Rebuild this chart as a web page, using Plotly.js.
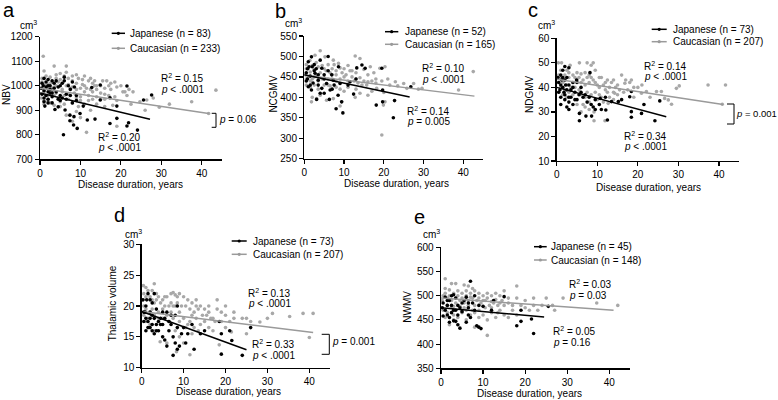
<!DOCTYPE html>
<html>
<head>
<meta charset="utf-8">
<script src="https://cdn.plot.ly/plotly-3.0.1.min.js"></script>
<style>html,body{margin:0;padding:0;background:#fff}#chart{width:778px;height:400px}</style>
</head>
<body>
<div id="chart"></div>
<script>
// values: [disease duration (years), volume (cm3)]
var nbvJapanese = [[0.5,1010],[1,1030],[1.5,1015],[2,1025],[2.5,1000],[3,1020],[3.5,1010],[1,980],[1.5,960],[2,945],[2.5,970],[3,955],[0.5,965],[1,950],[4,975],[4.5,995],[5,960],[5.5,1010],[6,1020],[6,1035],[7,1000],[7.5,985],[8,1015],[8.5,995],[9,960],[3.7,903],[4.5,914],[6.2,901],[7.4,880],[8.4,874],[7.4,857],[8.3,840],[9.2,826],[5.8,800],[9.9,887],[10.7,917],[11.7,860],[12.8,993],[13.6,864],[14.9,1003],[14.9,942],[17.3,951],[17.3,846],[19,917],[19,867],[21.5,999],[21.5,836],[21.9,849],[24.1,819],[25.6,942],[27.6,962],[1.2,917],[2,1000],[5,940],[6.5,965],[3,930],
  [0.3,990],[1.5,995],[2.5,985],[3.5,990],[4,1020],[5,1000],[0.8,1000],[2,975],[3,970],[4.5,945],[5.5,950],[6.5,945],[7.5,960],[8,930],[9,940],[2,930],[1,935]];
var nbvCaucasian = [[0.8,1120],[1,1060],[3.5,1080],[6.5,1080],[6.5,1055],[0.5,1030],[1.5,1040],[2.5,1035],[3,1015],[4,1030],[5,1025],[5.5,1010],[7,1030],[8,1020],[9,1010],[9.5,1030],[10.5,1025],[11,1000],[12,1020],[13,1010],[14,1000],[15.5,1020],[16.5,1020],[17.5,1010],[18.5,1015],[20,1000],[22,985],[0.5,990],[1,975],[1.5,960],[2,945],[2.5,930],[3,990],[4,970],[4.5,950],[5,935],[6,960],[7,945],[7.5,990],[8.5,970],[9,950],[10,940],[11,975],[12,960],[13,945],[14,985],[15,970],[16,945],[17,960],[18.5,955],[19,940],[19,835],[11.5,810],[8,855],[6.5,880],[9,895],[10,870],[12.5,900],[14,925],[16,915],[17.5,985],[20.5,975],[21.5,960],[22.5,925],[24.7,935],[26.4,942],[26,900],[23,975],[28,950],[29.5,912],[32,925],[37.5,935],[41.7,887],[43.5,982],[1,925],[2,935],[3.5,920],[5,915],[0.3,950],[7,1005],[4,1000],[2,1005],[10,990],[13,975],[15,945],[9.5,915],[18,920],[21,975],
  [1.5,1000],[2.5,1010],[3.5,995],[4.5,1015],[5.5,985],[6.5,1000],[8,995],[9,985],[10.5,1005],[11.5,990],[12.5,985],[13.5,1000],[0.5,1015],[1,1005],[2,990],[3,975],[4,1045],[5,1050],[6,1040],[8,1040],[9,1045],[11,1040],[12.5,1030],[13.5,1020],[15,1000],[16,990],[17,1000],[19,995],[6,925],[8,930],[10,955],[12,940],[14,955],[11,925],[7,965],[5.5,975],[3.5,960],[2,960],[1,940],[16,965]];
var nbvFitJapanese = [[0,970],[27.2,863]];
var nbvFitCaucasian = [[0,990],[41.7,887]];

var ncgmvJapanese = [[1,487],[1.8,499],[2.5,480],[4,491],[6,500],[2.7,459],[4.4,471],[3.5,442],[1,426],[1.8,418],[3.1,395],[4.4,422],[5.6,434],[6.5,418],[6.3,395],[8,372],[9.4,389],[9.7,362],[9,434],[8.6,475],[11.5,438],[12.4,408],[13.2,472],[14.5,479],[15.3,471],[18.1,381],[19.5,471],[19.7,418],[19.7,389],[22.4,350],[22.7,392],[26.8,426],[6.9,455],[7.3,442],[0.5,460],[1.5,452],[2.2,435],[3,470],[5,455],[6,465],[2,475],[4,410],[7,420],[0.8,470],
  [0.8,445],[1.2,475],[2.5,465],[3.5,455],[5,445],[0.5,440],[1.5,430],[3.5,430],[5,410],[7.5,430],[8.5,405],[11,430],[13,445]];
var ncgmvCaucasian = [[4,514],[2.7,503],[5.2,499],[1.4,490],[12.8,501],[14,495],[7.3,491],[8.6,483],[0.5,480],[1,470],[2,478],[3,485],[4.5,478],[6,480],[7,470],[8,465],[9,472],[10,470],[11,478],[12,465],[13,460],[15,468],[16.6,475],[19,471],[20.3,475],[17.5,460],[0.3,455],[1,450],[2,445],[3,455],[4,460],[5,448],[6,445],[7,455],[8,440],[9,445],[10,450],[11,440],[12,450],[13,445],[14,448],[15,440],[16,438],[18,445],[0.5,430],[1.5,425],[2.5,430],[3.5,420],[5,430],[6.5,428],[8,425],[10,415],[11,425],[13,420],[14.5,430],[15.7,430],[17,415],[18.2,422],[20,412],[21,445],[22.9,438],[25,434],[25.8,422],[27.5,434],[28.7,420],[29.6,422],[38.8,418],[42.5,463],[19.5,308],[19.9,381],[20.3,389],[9,379],[9.4,389],[1.8,389],[3.1,397],[5.6,393],[7.3,397],[12.8,400],[2,400],[4,405],
  [0.5,470],[1.5,462],[2.5,468],[3.5,475],[4.5,445],[5.5,465],[6.5,460],[7.5,480],[9.5,460],[10.5,455],[11.5,465],[12.5,440],[13.5,435],[0.5,445],[1.5,440],[2.5,450],[3.5,440],[5,470],[6,430],[7,445],[8,455],[9,420],[16,455],[17,440],[18,435],[19.5,440],[21.5,430],[23.5,428],[14,410],[16,405]];
var ncgmvFitJapanese = [[0,455],[26.5,401]];
var ncgmvFitCaucasian = [[0,454],[42.8,403]];

var ndgmvJapanese = [[0.5,42],[1,45],[1.5,47],[2,48.5],[2.5,44],[3,48],[1,41],[1.5,40],[2,43],[2.5,39],[3,41],[0.5,38],[1,36],[2,35],[3,34],[3.5,36],[2.5,32],[3,31],[4,33],[4.5,38],[4.9,43],[5,35],[5.6,29.4],[5.6,26.4],[6,38],[7,37],[7.2,28.3],[8,36],[8.2,46],[8.6,28.3],[9,32],[9.5,35],[10.7,35.5],[11,31],[12.1,30.8],[12.5,26.7],[12,36],[13.5,34.2],[15.2,34.2],[16,35],[18,36.2],[18.4,38.3],[18.4,30.1],[18.4,27.8],[20.9,29.4],[21.5,33],[24.2,26.4],[25.4,34.5],[6,40],[4,40],[5,42],[1.5,44],
  [0.3,44],[0.8,39],[1.2,43],[1.8,38],[2.2,41],[3.5,39],[4,42],[4.5,35],[5.5,37],[6.5,36],[7.5,34],[8.5,33],[9.5,31],[10.5,33],[2,37],[3,36],[1,33]];
var ndgmvCaucasian = [[0.4,50],[1.2,50],[3.3,49],[5.6,50],[7.5,50],[8.5,49],[9,50],[2.5,47],[5,46],[6,45.5],[7,46],[8,45],[9.5,47],[10.5,44],[0.5,45],[1,44],[2,43],[3,44],[4,42],[5,43],[6,42],[7,41],[8,42],[9,43],[10,41],[11,44],[12,42],[13,40],[14,43],[15,41],[16,45],[17,43],[18,42],[18.4,43],[16.8,41.7],[12.5,38],[14,38],[15,37],[11,36],[10,35],[9.2,30],[8,31],[7,32],[6,30],[5,33],[4,37],[3,38],[2,39],[1,40],[0.5,38],[11.9,26.4],[9.2,26.4],[12.7,33.5],[15.2,34.2],[14.3,37.6],[20.9,37.6],[22.1,38.3],[24.6,38.3],[25.8,38.3],[26.6,35.5],[27.5,34.9],[28.3,33.1],[29.5,39.6],[30.2,40.6],[37.3,41],[41.6,41],[40.8,33.1],[12,39],[3.5,40],[5.5,39],[7.5,38],[2.5,41],[1.5,42],[20,40],
  [0.3,42],[1,47],[2,45],[3,46],[4,45],[4.5,44],[5.5,44],[6.5,43],[7.5,44],[8.5,44],[9.5,42],[10.5,40],[11.5,41],[12.5,43],[13.5,42],[14.5,40],[15.5,39],[16.5,38],[17.5,39],[19,40],[1.5,37],[2.5,36],[3.5,39],[4.5,40],[6,37],[7,36],[8.5,37],[9.5,38],[10.5,37],[11.5,34],[13,36],[14,35],[6.5,33],[8,34],[19,36],[21,41],[23,36]];
var ndgmvFitJapanese = [[0,40],[27,28]];
var ndgmvFitCaucasian = [[0,43.3],[41,33]];

var thalamicJapanese = [[0.5,19],[1,20],[1.5,22],[2,21],[2.5,20.5],[3,22],[3.5,19.5],[1,18],[1.5,17.5],[2,18],[2.5,17],[3,18],[4,17.5],[4.5,18],[5,17],[0.5,17.5],[1.5,16.5],[2.5,16],[3,15.5],[4,16],[5.5,14.5],[6,13.5],[6.5,16],[7,17],[7.5,12],[8,14],[8.5,13],[9,13.5],[9.5,15.5],[8,18.5],[8.5,20],[6,19],[10,16.5],[11,15.5],[12,17],[12.5,13],[14,15.5],[15,16],[18.5,17.5],[19,15.5],[19,12.2],[21,16],[21.5,14.4],[24,12],[26,16.5],[5,19],
  [0.3,21],[0.8,19],[1.2,21],[2,19],[2.5,18.5],[3.5,17],[4.5,17],[5.5,18],[6.5,17.5],[7,18.5],[1,16],[2,16.5],[3.5,16],[5,15],[7.5,15],[8.5,16.5],[10.5,14]];
var thalamicCaucasian = [[0.4,23.3],[1,23],[2.5,22.5],[3,23.6],[0.5,22],[1,21.5],[2,21.5],[3.5,21],[4,21.5],[5,21],[6,21.5],[7,22],[7.5,22.2],[8,21.8],[8.5,21.5],[9,22],[10,21.5],[11,21],[12,20.5],[13,21],[14,20],[15,19.5],[16,19],[17,18],[18,19.5],[19,19],[20,18.5],[21,17.5],[22,18],[24,18],[25,18],[26,17.5],[28.2,17.4],[30,18],[31.2,18.8],[35.3,18.3],[38.5,18.8],[40.9,18.8],[40,14.9],[0.5,20],[1,19.5],[2,19],[3,18.5],[4,19],[5,18],[6,18.5],[7,19],[8,20],[9,19],[10,18],[11,17],[12,18.5],[13,18],[14,17],[15,17.5],[16,16.5],[17,16],[12,15.5],[9,15],[10,14],[8.3,12.6],[6,14],[4.4,14.2],[3,16],[2,17],[1,17.5],[11.5,12.1],[18.5,13.7],[20,16.5],[21.4,15.8],[25,15.5],[13,20],[5.5,20],[3,20.5],[7,20.5],
  [0.3,21],[1.5,22.5],[2.5,21],[3.5,22],[4.5,20.5],[5.5,21.5],[6.5,20],[7.5,20],[8.5,20.5],[9.5,20],[10.5,20],[11.5,19.5],[12.5,19],[13.5,19.5],[14.5,18.5],[15.5,18.5],[16.5,18],[17.5,17.5],[19,17.5],[0.5,18.5],[1.5,18],[2.5,19.5],[4,18],[5,19.5],[6.5,17.5],[7.5,18],[9,17.5],[10.5,16.5],[11.5,17.5],[12.5,16.5],[13.5,16],[8,16],[16,20],[18,21],[20,20],[22,19]];
var thalamicFitJapanese = [[0,19.1],[25,12.9]];
var thalamicFitCaucasian = [[0,19.1],[40.9,15.7]];

var nwmvJapanese = [[0.5,485],[1,497],[1.5,480],[2,490],[2.5,500],[3,502],[3.5,495],[4,480],[4.5,475],[5,485],[1,470],[1.5,460],[2,455],[2.5,465],[3,448],[3.5,447],[4,440],[4.5,433],[0.5,458],[6,497],[6.5,475],[7,530],[7.5,485],[8,500],[8.5,438],[9,435],[9.5,432],[6,445],[7,455],[10,478],[12,470],[12.5,490],[15,498],[18,438],[19,470],[19,447],[21.5,452],[22,422],[25.5,478],[6.5,460],[5,467],
  [0.3,475],[1.5,490],[2.5,480],[3,470],[3.5,470],[5.5,490],[4,460],[2,445],[6.5,485],[8,470],[9,480]];
var nwmvCaucasian = [[1,535],[2.5,525],[3.5,525],[5.5,522],[6.5,520],[7.5,515],[8,510],[1,515],[2,512],[4,510],[5,505],[6,510],[7,505],[9,505],[10,500],[11,505],[12,500],[13,505],[14,500],[15,510],[18,520],[0.5,500],[1.5,495],[2.5,490],[3.5,495],[4.5,490],[5.5,485],[6.5,490],[7.5,495],[8.5,490],[9.5,485],[10.5,490],[11.5,480],[12.5,485],[13.5,480],[14.5,490],[16,485],[17,480],[18,495],[20,490],[22,480],[23,470],[25,495],[26.5,480],[27,470],[29,495],[37,485],[42,480],[0.5,470],[1.5,465],[3,460],[4,455],[5,465],[6,470],[7,460],[8,465],[9,455],[10,460],[11,450],[12,465],[13,455],[14,470],[15,460],[16,455],[11,418],[8,435],[2,440],[5,470],[3,478],
  [0.3,490],[1,505],[2,500],[3,505],[4,500],[5,495],[6,500],[7,497],[8,480],[9,495],[10,490],[11,495],[12,488],[13,492],[14,485],[15,480],[16,495],[17,470],[19,480],[20,475],[21,470],[22,495],[1.5,480],[2.5,475],[3.5,485],[4.5,478],[5.5,475],[6.5,480],[7.5,470],[9,470],[10.5,475],[12,475],[13.5,465],[3,450],[6,450],[1,455],[18,460],[24,480]];
var nwmvFitJapanese = [[0,475],[24.5,456]];
var nwmvFitCaucasian = [[0,495],[41,470]];

var W = 778, H = 400;
function px(x) { return x / W; }
function py(y) { return 1 - y / H; }
function col(arr, i) { return arr.map(function (p) { return p[i]; }); }

var FONT = 'Liberation Sans, Arial, sans-serif';
var GREY = '#a8a8a8', GREYLINE = '#9a9a9a';

// plot boxes in pixels: left, right, top, bottom
var panels = [
  {letter: 'a', label: 'NBV', jap: nbvJapanese, cau: nbvCaucasian, fj: nbvFitJapanese, fc: nbvFitCaucasian,
   box: [40, 222, 36.7, 159.3], yr: [700, 1200], dt: 100, nj: 83, nc: 233},
  {letter: 'b', label: 'NCGMV', jap: ncgmvJapanese, cau: ncgmvCaucasian, fj: ncgmvFitJapanese, fc: ncgmvFitCaucasian,
   box: [304.3, 483.2, 36, 158.7], yr: [250, 550], dt: 50, nj: 52, nc: 165},
  {letter: 'c', label: 'NDGMV', jap: ndgmvJapanese, cau: ndgmvCaucasian, fj: ndgmvFitJapanese, fc: ndgmvFitCaucasian,
   box: [556.7, 739.3, 38.3, 161], yr: [10, 60], dt: 10, nj: 73, nc: 207},
  {letter: 'd', label: 'Thalamic volume', jap: thalamicJapanese, cau: thalamicCaucasian, fj: thalamicFitJapanese, fc: thalamicFitCaucasian,
   box: [141.7, 330.3, 244.3, 367.7], yr: [10, 30], dt: 5, nj: 73, nc: 207},
  {letter: 'e', label: 'NWMV', jap: nwmvJapanese, cau: nwmvCaucasian, fj: nwmvFitJapanese, fc: nwmvFitCaucasian,
   box: [441, 630.4, 247.3, 368.3], yr: [350, 600], dt: 50, nj: 45, nc: 148}
];

var data = [];
var layout = {
  width: W, height: H, margin: {l: 0, r: 0, t: 0, b: 0},
  paper_bgcolor: '#fff', plot_bgcolor: '#fff', showlegend: false,
  font: {family: FONT, size: 10, color: '#000'},
  annotations: [], shapes: []
};

// left-anchored notes: annotation box has ~2px padding, so shift back
function note(t, x, y, o) {
  var a = {text: t, x: px(x - 2), y: py(y), xref: 'paper', yref: 'paper', showarrow: false,
           xanchor: 'left', yanchor: 'middle', font: {family: FONT, size: 10, color: '#000'}};
  for (var k in (o || {})) a[k] = o[k];
  if (a.xanchor !== 'left') a.x = px(x);
  return a;
}
function legendItem(x1, x2, y, c) {
  layout.shapes.push({type: 'line', xref: 'paper', yref: 'paper', x0: px(x1), x1: px(x2), y0: py(y), y1: py(y),
                      line: {color: c, width: 1.5}});
  var m = (x1 + x2) / 2;
  layout.shapes.push({type: 'circle', xref: 'paper', yref: 'paper', x0: px(m - 1.6), x1: px(m + 1.6),
                      y0: py(y + 1.6), y1: py(y - 1.6), fillcolor: c, line: {width: 0}});
}
function bracket(x1, x2, y1, y2) {
  var p = 'M' + px(x1) + ',' + py(y1) + ' L' + px(x2) + ',' + py(y1) + ' L' + px(x2) + ',' + py(y2) + ' L' + px(x1) + ',' + py(y2);
  layout.shapes.push({type: 'path', xref: 'paper', yref: 'paper', path: p, line: {color: '#000', width: 1}});
}

panels.forEach(function (p, i) {
  var s = i === 0 ? '' : String(i + 1);
  var b = p.box;
  data.push({x: col(p.cau, 0), y: col(p.cau, 1), xaxis: 'x' + s, yaxis: 'y' + s, mode: 'markers', type: 'scatter',
             marker: {color: GREY, size: 3.6}, cliponaxis: false});
  data.push({x: col(p.jap, 0), y: col(p.jap, 1), xaxis: 'x' + s, yaxis: 'y' + s, mode: 'markers', type: 'scatter',
             marker: {color: '#000', size: 3.6}, cliponaxis: false});
  data.push({x: col(p.fc, 0), y: col(p.fc, 1), xaxis: 'x' + s, yaxis: 'y' + s, mode: 'lines', type: 'scatter',
             line: {color: GREYLINE, width: 1.5}});
  data.push({x: col(p.fj, 0), y: col(p.fj, 1), xaxis: 'x' + s, yaxis: 'y' + s, mode: 'lines', type: 'scatter',
             line: {color: '#000', width: 1.5}});
  var ax = {showline: true, linecolor: '#000', linewidth: 1.3, ticks: 'outside', ticklen: 4, tickwidth: 1.2,
            tickcolor: '#000', showgrid: false, zeroline: false, fixedrange: true,
            tickfont: {family: FONT, size: 10, color: '#000'}};
  layout['xaxis' + s] = Object.assign({}, ax, {domain: [px(b[0]), px(b[1])], range: [0, 45], anchor: 'y' + s,
                                               tickvals: [0, 10, 20, 30, 40]});
  layout['yaxis' + s] = Object.assign({}, ax, {domain: [py(b[3]), py(b[2])], range: p.yr, anchor: 'x' + s,
                                               dtick: p.dt, tick0: p.yr[0]});
});

var A = layout.annotations;
// panel letters
var letterPos = [[9, 10.5], [280, 11], [533, 10], [119, 215.5], [419, 217]];
panels.forEach(function (p, i) {
  A.push(note(p.letter, letterPos[i][0], letterPos[i][1], {xanchor: 'center', font: {family: FONT, size: 20, color: '#000'}}));
});

// units
var unitPos = [[20, 25], [285, 23.3], [538.3, 25], [125, 234], [423.3, 234.3]];
unitPos.forEach(function (u) { A.push(note('cm<sup>3</sup>', u[0], u[1])); });

// axis titles
var yt = [[6, 95], [273.3, 93.3], [529, 94], [112, 303.3], [408, 306.7]];
var xt = [[130.5, 184.3], [396.7, 183.3], [648, 187.7], [228.8, 391.7], [529, 393.3]];
panels.forEach(function (p, i) {
  A.push(note(p.label, yt[i][0], yt[i][1], {xanchor: 'center', textangle: -90}));
  A.push(note('Disease duration, years', xt[i][0], xt[i][1], {xanchor: 'center'}));
});

// legends
var lg = [[111.7, 125, 130, 33.3, 48.3], [385, 398.3, 405, 31.7, 44.3], [651.7, 666.7, 673.3, 29.3, 41.7],
          [231.7, 246.7, 253.3, 241, 254.3], [534, 546.7, 550.7, 246.7, 260]];
panels.forEach(function (p, i) {
  var l = lg[i];
  legendItem(l[0], l[1], l[3], '#000');
  legendItem(l[0], l[1], l[4], GREYLINE);
  A.push(note('Japanese (n = ' + p.nj + ')', l[2], l[3]));
  A.push(note('Caucasian (n = ' + p.nc + ')', l[2], l[4]));
});

// fit statistics
var stats = [
  [161, 78.3, '0.15', '<i>p</i> &lt; .0001'], [97.7, 136.7, '0.20', '<i>p</i> &lt; .0001'],
  [422.3, 68.3, '0.10', '<i>p</i> &lt; .0001'], [406.7, 110.7, '0.14', '<i>p</i> = 0.005'],
  [644, 65.7, '0.14', '<i>p</i> &lt; .0001'], [624, 136, '0.34', '<i>p</i> &lt; .0001'],
  [248.3, 292.7, '0.13', '<i>p</i> &lt; .0001'], [251.7, 344, '0.33', '<i>p</i> &lt; .0001'],
  [569, 284.3, '0.03', '<i>p</i> = 0.03'], [553.3, 331, '0.05', '<i>p</i> = 0.16']
];
stats.forEach(function (t) {
  A.push(note('R<sup>2</sup> = ' + t[2], t[0], t[1]));
  A.push(note(t[3], t[0], t[1] + 11));
});

// group comparison brackets
bracket(211.7, 216, 113.3, 127.3);
A.push(note('<i>p</i> = 0.06', 219.3, 119.3));
bracket(727, 734, 104, 124);
A.push(note('<i>p</i> = 0.001', 779, 113.3, {xanchor: 'right', font: {family: FONT, size: 9.5, color: '#000'}}));
bracket(321.7, 329.3, 334.3, 354.3);
A.push(note('<i>p</i> = 0.001', 331.7, 341.7));

Plotly.newPlot('chart', data, layout, {displayModeBar: false, staticPlot: true});
</script>
</body>
</html>
